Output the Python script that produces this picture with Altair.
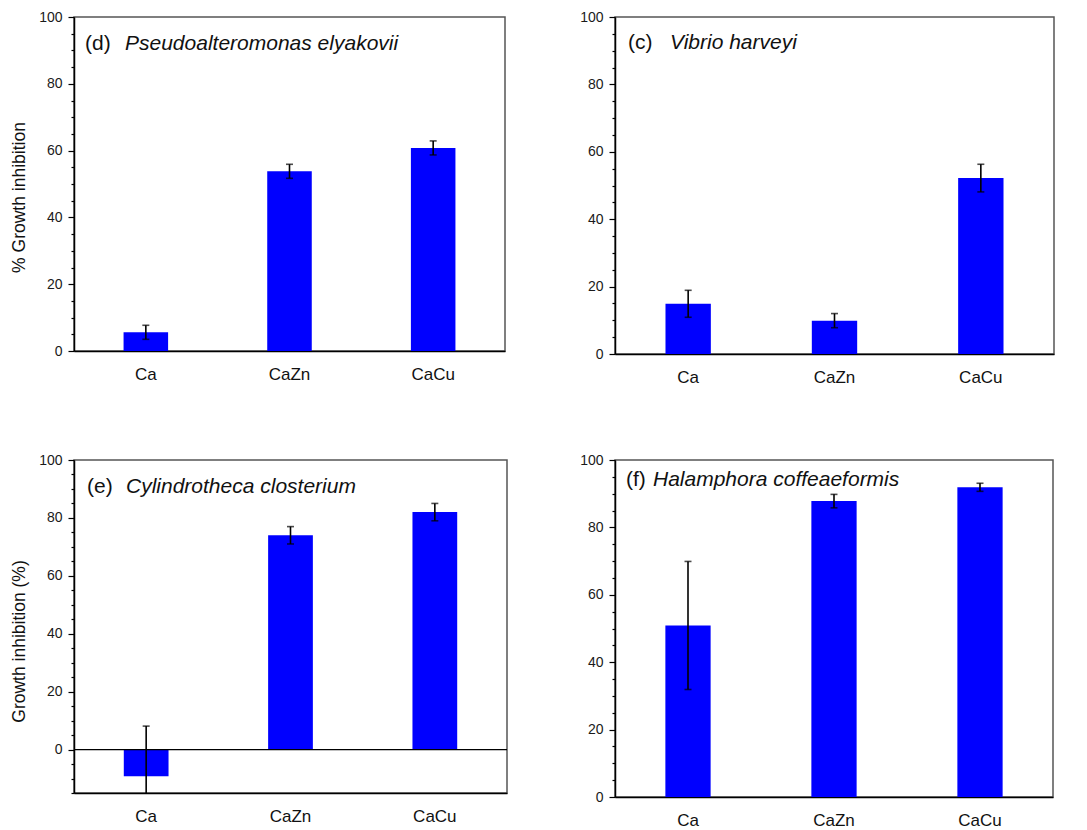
import altair as alt
import pandas as pd

FONT = "Liberation Sans"

categories = ["Ca", "CaZn", "CaCu"]

# panel (d) Pseudoalteromonas elyakovii
d_values = [5.6, 53.8, 60.8]
d_errors = [2.1, 2.1, 2.1]
# panel (c) Vibrio harveyi
c_values = [14.9, 9.9, 52.2]
c_errors = [4.0, 2.1, 4.1]
# panel (e) Cylindrotheca closterium
e_values = [-9.2, 74.0, 82.0]
e_errors = [17.3, 3.0, 3.0]
# panel (f) Halamphora coffeaeformis
f_values = [50.9, 87.8, 91.9]
f_errors = [19.0, 2.0, 1.2]

panel_letters = ["(d)", "(c)", "(e)", "(f)"]
panel_species = ["Pseudoalteromonas elyakovii", "Vibrio harveyi",
                 "Cylindrotheca closterium", "Halamphora coffeaeformis"]
y_titles = ["% Growth inhibition", None, "Growth inhibition (%)", None]
y_mins = [0, 0, -15, 0]


def make_panel(letter, species, vals, errs, ymin, width, height, ytitle,
               title_y, letter_x, species_x, text_y, zero_line=False):
    df = pd.DataFrame({"cat": categories, "val": vals, "err": errs})
    yscale = alt.Scale(domain=[ymin, 100], nice=False, zero=False)
    xscale = alt.Scale(paddingInner=0.69, paddingOuter=0.345)
    xaxis = alt.Axis(title=None, labelAngle=0, ticks=False, labelFontSize=17,
                     labelFont=FONT, labelColor="#111", labelPadding=15,
                     domainColor="black", domainWidth=1.5)
    axis_kw = dict(
        values=list(range(ymin, 101, 5)),
        labelExpr="datum.value % 20 === 0 ? datum.label : ''",
        tickSize={"condition": {"test": "datum.value % 20 === 0", "value": 6}, "value": 3},
        labelOverlap=False, labelFontSize=14, labelFont=FONT, labelColor="#1a1a1a",
        labelPadding=6, tickColor="black", tickWidth=1.2, domainColor="black",
        domainWidth=1.5, grid=False,
    )
    if ytitle:
        axis_kw.update(title=ytitle, titleFontSize=17.5, titleFont=FONT,
                       titleFontWeight="normal", titleColor="#111", titlePadding=10,
                       titleY=title_y)
    else:
        axis_kw.update(title=None)
    yaxis = alt.Axis(**axis_kw)

    xe = alt.X("cat:N", sort=categories, scale=xscale, axis=xaxis)
    bars = alt.Chart(df).mark_bar(color="#0000ff", clip=True).encode(
        x=xe,
        y=alt.Y("val:Q", scale=yscale, axis=yaxis),
        y2=alt.datum(0),
    )
    eb = alt.Chart(df).transform_calculate(
        lo="datum.val - datum.err", hi="datum.val + datum.err")
    rule = eb.mark_rule(color="black", strokeWidth=1.6, clip=True).encode(
        x=xe, y=alt.Y("lo:Q", scale=yscale, axis=yaxis), y2="hi:Q")
    cap_lo = eb.mark_tick(color="black", thickness=1.6, size=7, clip=True).encode(
        x=xe, y=alt.Y("lo:Q", scale=yscale, axis=yaxis))
    cap_hi = eb.mark_tick(color="black", thickness=1.6, size=7, clip=True).encode(
        x=xe, y=alt.Y("hi:Q", scale=yscale, axis=yaxis))

    lab = alt.Chart(pd.DataFrame({"t": [letter]})).mark_text(
        align="left", baseline="alphabetic", fontSize=21, font=FONT, color="#111"
    ).encode(x=alt.value(letter_x), y=alt.value(text_y), text="t:N")
    sp = alt.Chart(pd.DataFrame({"t": [species]})).mark_text(
        align="left", baseline="alphabetic", fontSize=21, font=FONT,
        fontStyle="italic", color="#111"
    ).encode(x=alt.value(species_x), y=alt.value(text_y), text="t:N")

    layers = [bars]
    if zero_line:
        z = alt.Chart(pd.DataFrame({"z": [0]})).mark_rule(
            color="black", strokeWidth=1.3).encode(
            y=alt.Y("z:Q", scale=yscale, axis=yaxis))
        layers.append(z)
    layers += [rule, cap_lo, cap_hi, lab, sp]
    return alt.layer(*layers).properties(width=width, height=height)


pd_ = make_panel(panel_letters[0], panel_species[0], d_values, d_errors, y_mins[0],
                 431, 334, y_titles[0], 180, 11, 51, 32.5)
pc_ = make_panel(panel_letters[1], panel_species[1], c_values, c_errors, y_mins[1],
                 439, 337, y_titles[1], 0, 13, 55, 32)
pe_ = make_panel(panel_letters[2], panel_species[2], e_values, e_errors, y_mins[2],
                 433, 333, y_titles[2], 181, 13, 52, 32.5, zero_line=True)
pf_ = make_panel(panel_letters[3], panel_species[3], f_values, f_errors, y_mins[3],
                 438, 337, y_titles[3], 0, 11, 38, 26)

chart = alt.concat(pd_, pc_, pe_, pf_, columns=2,
                   spacing={"row": 106, "column": 108}, bounds="flush").properties(
    padding={"left": 1, "top": 1, "right": 0, "bottom": 0}
).configure_view(stroke="#555", strokeWidth=1.5)

chart.save("out.html", embed_options={"renderer": "svg", "actions": False})
